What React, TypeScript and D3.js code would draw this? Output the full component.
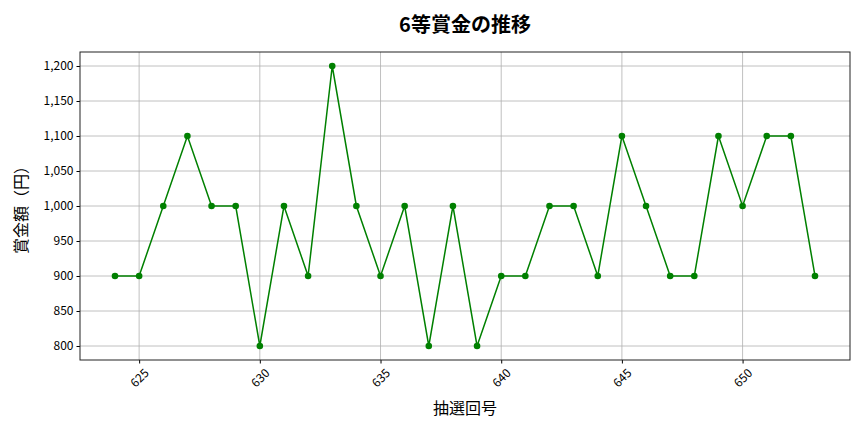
import * as d3 from "d3";
import { useEffect, useRef } from "react";

const rounds = [
  624, 625, 626, 627, 628, 629, 630, 631, 632, 633, 634, 635, 636, 637, 638,
  639, 640, 641, 642, 643, 644, 645, 646, 647, 648, 649, 650, 651, 652, 653,
];
const prizes = [
  900, 900, 1000, 1100, 1000, 1000, 800, 1000, 900, 1200, 1000, 900, 1000, 800,
  1000, 800, 900, 900, 1000, 1000, 900, 1100, 1000, 900, 900, 1100, 1000, 1100,
  1100, 900,
];
const xTicks = [625, 630, 635, 640, 645, 650];
const yTicks = [800, 850, 900, 950, 1000, 1050, 1100, 1150, 1200];

const FONT = "'Noto Sans CJK JP', 'Noto Sans', sans-serif";

export default function App() {
  const ref = useRef(null);

  useEffect(() => {
    var width = 864;
    var height = 432;
    var margin = { left: 80, right: 14, top: 52, bottom: 72 };

    var svg = d3
      .select(ref.current)
      .append("svg")
      .attr("width", width)
      .attr("height", height)
      .style("display", "block")
      .style("font-family", FONT);

    svg.append("rect").attr("width", width).attr("height", height).attr("fill", "white");

    var xPad = (d3.max(rounds)! - d3.min(rounds)!) * 0.05;
    var x = d3
      .scaleLinear()
      .domain([d3.min(rounds)! - xPad, d3.max(rounds)! + xPad])
      .range([margin.left, width - margin.right]);

    var yPad = (d3.max(prizes)! - d3.min(prizes)!) * 0.05;
    var y = d3
      .scaleLinear()
      .domain([d3.min(prizes)! - yPad, d3.max(prizes)! + yPad])
      .range([height - margin.bottom, margin.top]);

    // grid
    var grid = svg.append("g").attr("stroke", "#b0b0b0").attr("stroke-width", 0.8);
    xTicks.forEach((t) => {
      grid.append("line").attr("x1", x(t)).attr("x2", x(t)).attr("y1", margin.top).attr("y2", height - margin.bottom);
    });
    yTicks.forEach((t) => {
      grid.append("line").attr("x1", margin.left).attr("x2", width - margin.right).attr("y1", y(t)).attr("y2", y(t));
    });

    // axes
    var xAxis = svg
      .append("g")
      .attr("transform", "translate(0," + (height - margin.bottom) + ")")
      .call(d3.axisBottom(x).tickValues(xTicks).tickSize(3.5).tickSizeOuter(0).tickFormat(d3.format("d")));
    xAxis.select(".domain").remove();
    xAxis
      .selectAll("text")
      .attr("font-family", FONT)
      .attr("font-size", 12)
      .attr("fill", "#000")
      .attr("text-anchor", "middle")
      .attr("y", 0)
      .attr("dy", "0.35em")
      .attr("transform", "translate(0,18) rotate(-45)");

    var yAxis = svg
      .append("g")
      .attr("transform", "translate(" + margin.left + ",0)")
      .call(d3.axisLeft(y).tickValues(yTicks).tickSize(3.5).tickSizeOuter(0).tickFormat(d3.format(",")));
    yAxis.select(".domain").remove();
    yAxis.selectAll("text").attr("font-family", FONT).attr("font-size", 12).attr("fill", "#000");

    svg
      .append("rect")
      .attr("x", margin.left)
      .attr("y", margin.top)
      .attr("width", width - margin.left - margin.right)
      .attr("height", height - margin.top - margin.bottom)
      .attr("fill", "none")
      .attr("stroke", "#222")
      .attr("stroke-width", 1);

    // line
    var line = d3
      .line<number>()
      .x((d, i) => x(rounds[i]))
      .y((d) => y(d));

    svg
      .append("path")
      .datum(prizes)
      .attr("d", line)
      .attr("fill", "none")
      .attr("stroke", "green")
      .attr("stroke-width", 1.5);

    svg
      .selectAll("circle.pt")
      .data(prizes)
      .enter()
      .append("circle")
      .attr("cx", (d, i) => x(rounds[i]))
      .attr("cy", (d) => y(d))
      .attr("r", 3.3)
      .attr("fill", "green");

    // labels
    svg
      .append("text")
      .attr("x", (margin.left + width - margin.right) / 2)
      .attr("y", 32)
      .attr("text-anchor", "middle")
      .attr("font-size", 20)
      .attr("font-weight", "bold")
      .text("6等賞金の推移");

    svg
      .append("text")
      .attr("x", (margin.left + width - margin.right) / 2)
      .attr("y", 414)
      .attr("text-anchor", "middle")
      .attr("font-size", 16)
      .text("抽選回号");

    svg
      .append("text")
      .attr("transform", "translate(27," + (margin.top + height - margin.bottom) / 2 + ") rotate(-90)")
      .attr("text-anchor", "middle")
      .attr("font-size", 16)
      .text("賞金額（円）");

    return function () {
      svg.remove();
    };
  }, []);

  return <div ref={ref} style={{ margin: -8 }} />;
}
